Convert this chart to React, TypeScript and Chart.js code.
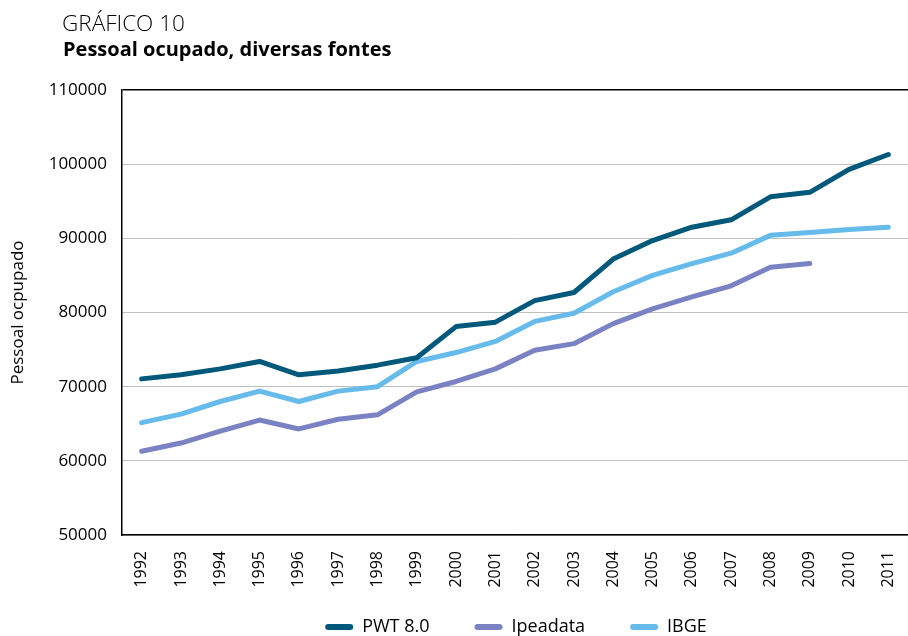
import React, { useEffect, useRef } from "react";
import { Chart, registerables } from "chart.js";

Chart.register(...registerables);

const years = ["1992","1993","1994","1995","1996","1997","1998","1999","2000","2001","2002","2003","2004","2005","2006","2007","2008","2009","2010","2011"];
const pwt = [71050, 71600, 72400, 73400, 71600, 72100, 72900, 73900, 78100, 78700, 81600, 82700, 87200, 89700, 91500, 92500, 95600, 96200, 99300, 101300];
const ipeadata = [61300, 62400, 64000, 65500, 64300, 65600, 66200, 69300, 70700, 72400, 74900, 75800, 78500, 80500, 82100, 83600, 86100, 86600, null, null];
const ibge = [65150, 66300, 68000, 69400, 68000, 69400, 70000, 73400, 74600, 76100, 78800, 79900, 82800, 85000, 86600, 88000, 90400, 90800, 91200, 91500];
const yTicks = { min: 50000, max: 110000, step: 10000 };

const FONT = "'Open Sans', 'Noto Sans', sans-serif";
const LEGEND_FONT = 18;
const LEGEND_PAD = 45;

const placeLegend = {
  id: "placeLegend",
  afterLayout(chart: any) {
    const l = chart.legend;
    if (!l) return;
    const dx = 516 - (l.left + l.right) / 2;
    l.left += dx;
    l.right += dx;
    const wantTop = 627 - LEGEND_PAD - LEGEND_FONT / 2;
    const dy = wantTop - l.top;
    l.top += dy;
    l.bottom += dy;
  },
};

export default function App() {
  const ref = useRef<HTMLCanvasElement | null>(null);
  useEffect(() => {
    if (!ref.current) return;
    const chart = new Chart(ref.current, {
      type: "line",
      data: {
        labels: years,
        datasets: [
          { label: "PWT 8.0", data: pwt, borderColor: "#00587a", backgroundColor: "#00587a", borderWidth: 5, pointRadius: 0, tension: 0, borderCapStyle: "round", borderJoinStyle: "round" },
          { label: "Ipeadata", data: ipeadata, borderColor: "#7a82c4", backgroundColor: "#7a82c4", borderWidth: 5, pointRadius: 0, tension: 0, borderCapStyle: "round", borderJoinStyle: "round" },
          { label: "IBGE", data: ibge, borderColor: "#66bbea", backgroundColor: "#66bbea", borderWidth: 5, pointRadius: 0, tension: 0, borderCapStyle: "round", borderJoinStyle: "round" },
        ],
      },
      plugins: [placeLegend],
      options: {
        animation: false,
        responsive: false,
        maintainAspectRatio: false,
        layout: { padding: { top: 90, right: 0, left: 0, bottom: -34 } },
        plugins: {
          tooltip: { enabled: false },
          legend: {
            position: "bottom",
            labels: {
              font: { family: FONT, size: LEGEND_FONT },
              color: "#000",
              boxWidth: 28,
              boxHeight: 6,
              useBorderRadius: true,
              borderRadius: 3,
              padding: LEGEND_PAD,
              generateLabels: (c: any) =>
                (Chart.defaults.plugins.legend.labels.generateLabels as any)(c).map((it: any) => ({ ...it, lineWidth: 0 })),
            },
          },
        },
        scales: {
          x: {
            offset: true,
            grid: { display: false, drawTicks: false },
            border: { display: true, color: "#000", width: 1.5 },
            ticks: { font: { family: FONT, size: 16 }, color: "#000", minRotation: 90, maxRotation: 90, padding: 16 },
            afterFit: (s: any) => { s.height = 62; s.paddingLeft = 0; s.paddingRight = 0; },
          },
          y: {
            min: yTicks.min,
            max: yTicks.max,
            grid: {
              drawTicks: false,
              color: (c: any) => (c.tick && c.tick.value === yTicks.max ? "#000" : "#bfbfbf"),
              lineWidth: (c: any) => (c.tick && c.tick.value === yTicks.max ? 1.5 : 1),
            },
            border: { display: true, color: "#000", width: 1.5 },
            ticks: { stepSize: yTicks.step, font: { family: FONT, size: 17 }, color: "#000", padding: 15, callback: (v: any) => String(v) },
            title: { display: true, text: "Pessoal ocpupado", font: { family: FONT, size: 17 }, color: "#000", padding: { top: 8, bottom: 0 } },
            afterFit: (s: any) => { s.width = 122; },
          },
        },
      },
    });
    return () => chart.destroy();
  }, []);
  return (
    <div style={{ position: "fixed", left: 0, top: 0, width: 908, height: 636, background: "#fff" }}>
      <canvas ref={ref} width={908} height={636} style={{ position: "absolute", left: 0, top: 0 }} />
      <div style={{ position: "absolute", left: 62, top: 9, fontFamily: FONT, fontWeight: 300, fontSize: 22.5, color: "#000", lineHeight: "28px" }}>GRÁFICO 10</div>
      <div style={{ position: "absolute", left: 63, top: 36, fontFamily: FONT, fontWeight: 700, fontSize: 20, color: "#000", lineHeight: "26px" }}>Pessoal ocupado, diversas fontes</div>
    </div>
  );
}
